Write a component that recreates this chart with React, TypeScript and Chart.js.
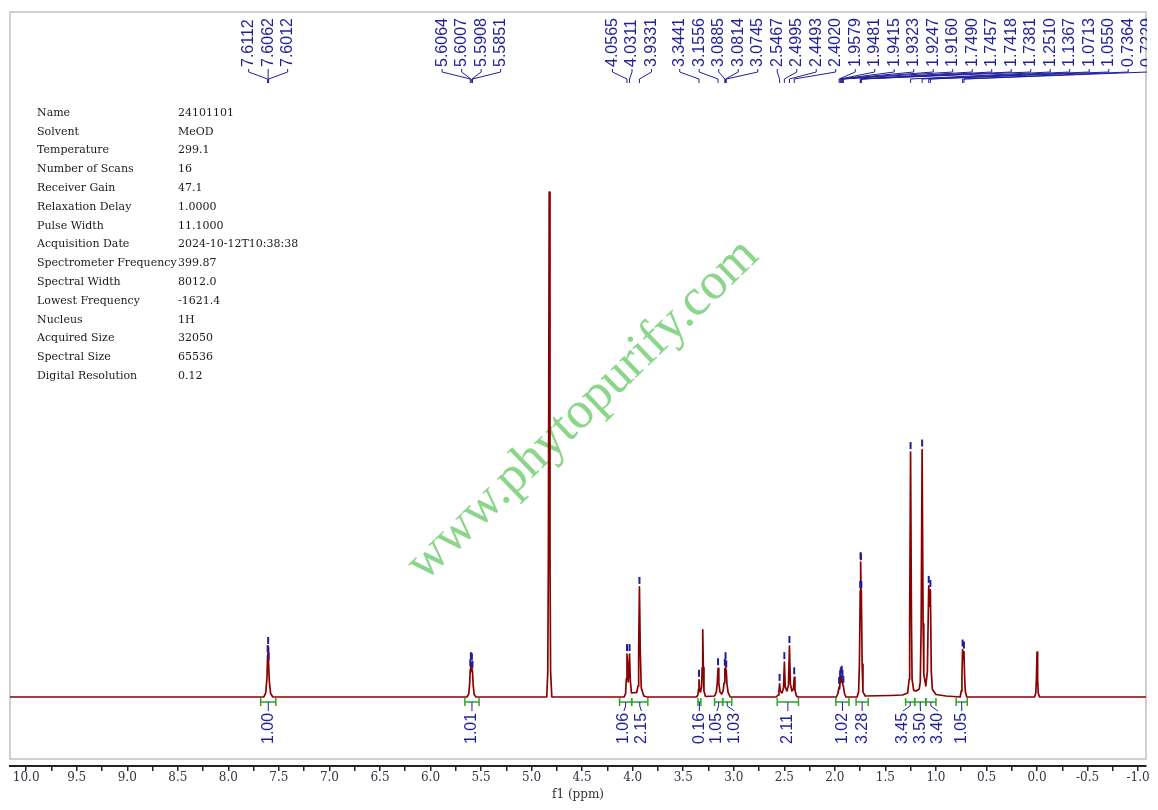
import { useEffect, useRef } from 'react'
import { Chart, registerables } from 'chart.js'

Chart.register(...registerables)

// 1H spectrum trace: shift (ppm) / relative intensity (HDO peak = 100)
const spectrumPpm = [
  10.16,
  7.65, 7.63, 7.618, 7.6112, 7.6087, 7.6062, 7.6037, 7.6012, 7.594, 7.582, 7.56,
  5.64, 5.622, 5.613, 5.6064, 5.6035, 5.6007, 5.5958, 5.5908, 5.588, 5.5851, 5.578, 5.568, 5.55,
  4.85, 4.84, 4.834, 4.826, 4.818, 4.812, 4.80,
  4.085, 4.07, 4.063, 4.0565, 4.044, 4.0311, 4.024, 4.012, 3.96, 3.947, 3.941, 3.9331, 3.925, 3.915, 3.89, 3.86,
  3.37, 3.355, 3.349, 3.3441, 3.337, 3.33, 3.318, 3.313, 3.307, 3.301, 3.295, 3.28,
  3.19, 3.172, 3.163, 3.1556, 3.148, 3.137, 3.12, 3.105, 3.096, 3.0885, 3.085, 3.0814, 3.078, 3.0745, 3.067, 3.056, 3.035,
  2.58, 2.562, 2.553, 2.5467, 2.54, 2.523, 2.508, 2.4995, 2.491, 2.474, 2.459, 2.4493, 2.44, 2.425, 2.41, 2.402, 2.395, 2.38, 2.365,
  1.985, 1.97, 1.9579, 1.953, 1.9481, 1.9448, 1.9415, 1.937, 1.9323, 1.9285, 1.9247, 1.92, 1.916, 1.905, 1.89,
  1.78, 1.765, 1.757, 1.749, 1.7473, 1.7457, 1.7437, 1.7418, 1.74, 1.7381, 1.730, 1.722, 1.70,
  1.45, 1.33, 1.28, 1.265, 1.26, 1.251, 1.242, 1.236, 1.22, 1.195,
  1.165, 1.155, 1.146, 1.1367, 1.127, 1.12, 1.10,
  1.085, 1.0713, 1.063, 1.055, 1.046, 1.035, 1.0, 0.9,
  0.76, 0.75, 0.743, 0.7364, 0.7295, 0.7229, 0.716, 0.709, 0.695,
  0.025, 0.012, 0.006, 0.0, -0.006, -0.012, -0.025,
  -1.078,
]
const spectrumInt = [
  0,
  0, 0.8, 3.8, 8.3, 7.6, 9.9, 7.2, 6.8, 3.0, 0.7, 0,
  0, 0.6, 2.6, 5.5, 5.0, 6.9, 5.7, 6.7, 5.0, 5.2, 2.4, 0.5, 0,
  0, 5, 28, 100, 28, 5, 0,
  0, 0.7, 3.6, 8.5, 3.0, 8.5, 3.4, 0.8, 0.9, 2.2, 9.5, 21.8, 9.0, 1.8, 0.2, 0,
  0, 0.4, 1.5, 3.4, 1.2, 1.0, 2.0, 5.8, 13.3, 5.8, 1.2, 0.1,
  0.2, 1.0, 2.8, 5.7, 2.8, 1.0, 0.6, 1.2, 2.8, 5.6, 5.3, 6.9, 5.5, 5.3, 2.5, 0.9, 0,
  0, 0.4, 1.2, 2.6, 1.2, 0.8, 1.8, 6.9, 2.0, 1.2, 2.4, 10.1, 2.6, 1.2, 1.6, 3.9, 1.4, 0.2, 0,
  0, 0.7, 2.0, 1.6, 3.3, 2.9, 3.9, 3.3, 4.2, 3.3, 3.4, 2.4, 2.2, 0.7, 0,
  0, 1.0, 6.5, 21.0, 19.8, 26.7, 25.2, 26.5, 20.0, 21.0, 6.5, 1.0, 0.2,
  0.3, 0.4, 0.8, 3.5, 14.5, 48.5, 14.5, 3.5, 1.3, 1.2,
  1.6, 3.0, 14.5, 49.0, 14.5, 4.5, 2.2,
  5.0, 22.0, 18.0, 21.2, 5.0, 1.5, 0.5, 0.2,
  0, 1.2, 4.0, 9.4, 7.6, 9.0, 3.8, 1.1, 0,
  0, 0.8, 3.6, 8.9, 3.6, 0.8, 0,
  0,
]

// picked peaks (labels along the top)
const peakPicks = [
  7.6112, 7.6062, 7.6012,
  5.6064, 5.6007, 5.5908, 5.5851,
  4.0565, 4.0311, 3.9331, 3.3441, 3.1556, 3.0885, 3.0814, 3.0745,
  2.5467, 2.4995, 2.4493, 2.402,
  1.9579, 1.9481, 1.9415, 1.9323, 1.9247, 1.916,
  1.749, 1.7457, 1.7418, 1.7381,
  1.251, 1.1367, 1.0713, 1.055, 0.7364, 0.7229,
]

// integration regions and values
const integralFrom = [7.68, 5.66, 4.13, 4.01, 3.355, 3.19, 3.11, 2.57, 1.99, 1.79, 1.30, 1.21, 1.10, 0.80]
const integralTo = [7.53, 5.52, 4.01, 3.85, 3.325, 3.11, 3.02, 2.36, 1.86, 1.67, 1.21, 1.10, 1.00, 0.69]
const integralValues = [1.00, 1.01, 1.06, 2.15, 0.16, 1.05, 1.03, 2.11, 1.02, 3.28, 3.45, 3.50, 3.40, 1.05]

// acquisition parameters table
const paramNames = [
  'Name', 'Solvent', 'Temperature', 'Number of Scans', 'Receiver Gain',
  'Relaxation Delay', 'Pulse Width', 'Acquisition Date', 'Spectrometer Frequency',
  'Spectral Width', 'Lowest Frequency', 'Nucleus', 'Acquired Size', 'Spectral Size',
  'Digital Resolution',
]
const paramValues = [
  '24101101', 'MeOD', '299.1', '16', '47.1', '1.0000', '11.1000', '2024-10-12T10:38:38',
  '399.87', '8012.0', '-1621.4', '1H', '32050', '65536', '0.12',
]

const X_MIN = -1.078
const X_MAX = 10.16
const Y_MIN = -13.66
const Y_MAX = 135.64
const TICK_STEP = 0.25

const NAVY = '#1f1f99'
const GREEN = '#2aa52a'

// centre each tight group of labels on its peaks, then push apart left to right
function spreadLabels(want: number[], gap: number, maxX: number) {
  const out: number[] = []
  let i = 0
  while (i < want.length) {
    let j = i
    while (j + 1 < want.length && want[j + 1] - want[j] < gap) j++
    const n = j - i + 1
    let mean = 0
    for (let k = i; k <= j; k++) mean += want[k]
    mean /= n
    for (let k = 0; k < n; k++) out.push(mean + (k - (n - 1) / 2) * gap)
    i = j + 1
  }
  for (let k = 1; k < out.length; k++) out[k] = Math.max(out[k], out[k - 1] + gap)
  const last = out.length - 1
  if (out[last] > maxX) {
    out[last] = maxX
    for (let k = last - 1; k >= 0; k--) out[k] = Math.min(out[k], out[k + 1] - gap)
  }
  return out
}

const nmrDecor = {
  id: 'nmrDecor',
  beforeDatasetsDraw(chart: Chart) {
    const { ctx, chartArea } = chart
    const { left, right, top, bottom } = chartArea
    ctx.save()
    // frame
    ctx.strokeStyle = '#cfcfcf'
    ctx.lineWidth = 2
    ctx.strokeRect(left, top, right - left, bottom - 7 - top)

    // parameter table
    ctx.font = '11px "DejaVu Serif"'
    ctx.fillStyle = '#1a1a1a'
    ctx.textBaseline = 'middle'
    ctx.textAlign = 'left'
    paramNames.forEach((name, i) => {
      const y = top + 101 + i * 18.8
      ctx.fillText(name, left + 27, y)
      ctx.fillText(paramValues[i], left + 168, y)
    })

    // watermark
    ctx.translate(left + 573, top + 398)
    ctx.rotate(-44 * Math.PI / 180)
    ctx.font = '52px "Liberation Serif"'
    ctx.fillStyle = '#8ad68a'
    ctx.textAlign = 'center'
    ctx.fillText('www.phytopurify.com', 0, 0)
    ctx.restore()
  },
  afterDatasetsDraw(chart: Chart) {
    const { ctx, chartArea } = chart
    const { left, right, top } = chartArea
    const xs = chart.scales.x
    const ys = chart.scales.y
    const y0 = ys.getPixelForValue(0)

    ctx.save()
    // peak-top markers
    ctx.strokeStyle = NAVY
    ctx.lineWidth = 2
    peakPicks.forEach(p => {
      const idx = spectrumPpm.findIndex(v => Math.abs(v - p) < 1e-6)
      const px = xs.getPixelForValue(p)
      const py = ys.getPixelForValue(spectrumInt[idx])
      ctx.beginPath()
      ctx.moveTo(px, py - 3)
      ctx.lineTo(px, py - 10)
      ctx.stroke()
    })

    // peak labels
    ctx.beginPath()
    ctx.rect(left, 0, right - left + 1, chart.height)
    ctx.clip()
    const peakPx = peakPicks.map(p => xs.getPixelForValue(p))
    const labelPx = spreadLabels(peakPx, 19.5, right + 2)
    ctx.lineWidth = 1
    ctx.fillStyle = NAVY
    ctx.font = '16px "Liberation Sans"'
    ctx.textAlign = 'left'
    ctx.textBaseline = 'middle'
    peakPicks.forEach((p, i) => {
      ctx.beginPath()
      ctx.moveTo(labelPx[i], top + 57)
      ctx.lineTo(labelPx[i], top + 60)
      ctx.lineTo(peakPx[i], top + 67)
      ctx.lineTo(peakPx[i], top + 71)
      ctx.stroke()
      ctx.save()
      ctx.translate(labelPx[i], top + 55)
      ctx.rotate(-Math.PI / 2)
      ctx.fillText(p.toFixed(4), 0, 0)
      ctx.restore()
    })
    ctx.restore()

    // integrals
    ctx.save()
    const centres = integralFrom.map((f, i) => (xs.getPixelForValue(f) + xs.getPixelForValue(integralTo[i])) / 2)
    const intPx = spreadLabels(centres, 17.5, right)
    ctx.font = '16px "Liberation Sans"'
    ctx.textAlign = 'left'
    ctx.textBaseline = 'middle'
    integralValues.forEach((v, i) => {
      const xa = xs.getPixelForValue(integralFrom[i])
      const xb = xs.getPixelForValue(integralTo[i])
      ctx.strokeStyle = GREEN
      ctx.lineWidth = 1.5
      ctx.beginPath()
      ctx.moveTo(xa, y0 + 5)
      ctx.lineTo(xb, y0 + 5)
      ctx.moveTo(xa, y0 + 1)
      ctx.lineTo(xa, y0 + 9)
      ctx.moveTo(xb, y0 + 1)
      ctx.lineTo(xb, y0 + 9)
      ctx.stroke()
      ctx.strokeStyle = NAVY
      ctx.lineWidth = 1
      ctx.beginPath()
      ctx.moveTo(centres[i], y0 + 5)
      ctx.lineTo(centres[i], y0 + 9)
      ctx.lineTo(intPx[i], y0 + 14)
      ctx.stroke()
      ctx.fillStyle = NAVY
      ctx.save()
      ctx.translate(intPx[i], y0 + 47)
      ctx.rotate(-Math.PI / 2)
      ctx.fillText(v.toFixed(2), 0, 0)
      ctx.restore()
    })
    ctx.restore()
  },
}

const onGrid = (v: number, step: number) => Math.abs(v / step - Math.round(v / step)) < 1e-6

export default function App() {
  const canvasRef = useRef<HTMLCanvasElement>(null)
  const chartRef = useRef<Chart | null>(null)

  useEffect(() => {
    if (!canvasRef.current) return
    if (chartRef.current) chartRef.current.destroy()

    chartRef.current = new Chart(canvasRef.current, {
      type: 'line',
      data: {
        datasets: [{
          label: '1H',
          data: spectrumPpm.map((x, i) => ({ x, y: spectrumInt[i] })),
          borderColor: '#8b0000',
          borderWidth: 1.7,
          borderJoinStyle: 'round',
          pointRadius: 0,
          tension: 0,
          fill: false,
        }],
      },
      options: {
        animation: false,
        responsive: true,
        maintainAspectRatio: false,
        events: [],
        layout: { padding: { left: 10, right: 12, top: 12, bottom: 6.2 } },
        plugins: {
          legend: { display: false },
          tooltip: { enabled: false },
        },
        scales: {
          x: {
            type: 'linear',
            reverse: true,
            min: X_MIN,
            max: X_MAX,
            afterBuildTicks: axis => {
              const ticks = []
              const first = Math.ceil(X_MIN / TICK_STEP)
              const lastT = Math.floor(X_MAX / TICK_STEP)
              for (let k = first; k <= lastT; k++) ticks.push({ value: k * TICK_STEP })
              axis.ticks = ticks
            },
            ticks: {
              autoSkip: false,
              maxRotation: 0,
              padding: 0,
              color: '#333344',
              font: { family: '"DejaVu Serif"', size: 12 },
              callback: v => (onGrid(Number(v), 0.5) ? (Math.round(Number(v) * 2) / 2).toFixed(1) : ''),
            },
            grid: { display: true, drawOnChartArea: false, drawTicks: true, tickLength: 5, color: '#222', lineWidth: 1.5 },
            border: { display: true, color: '#222', width: 2 },
            title: {
              display: true,
              text: 'f1 (ppm)',
              color: '#333',
              font: { family: '"DejaVu Serif"', size: 12 },
              padding: { top: 2, bottom: 2 },
            },
          },
          y: { display: false, min: Y_MIN, max: Y_MAX },
        },
      },
      plugins: [nmrDecor],
    })

    return () => { chartRef.current?.destroy() }
  }, [])

  return (
    <div style={{ position: 'absolute', left: 0, top: 0, width: 1158, height: 810 }}>
      <canvas ref={canvasRef} role="img" aria-label="1H NMR spectrum, MeOD" />
    </div>
  )
}
